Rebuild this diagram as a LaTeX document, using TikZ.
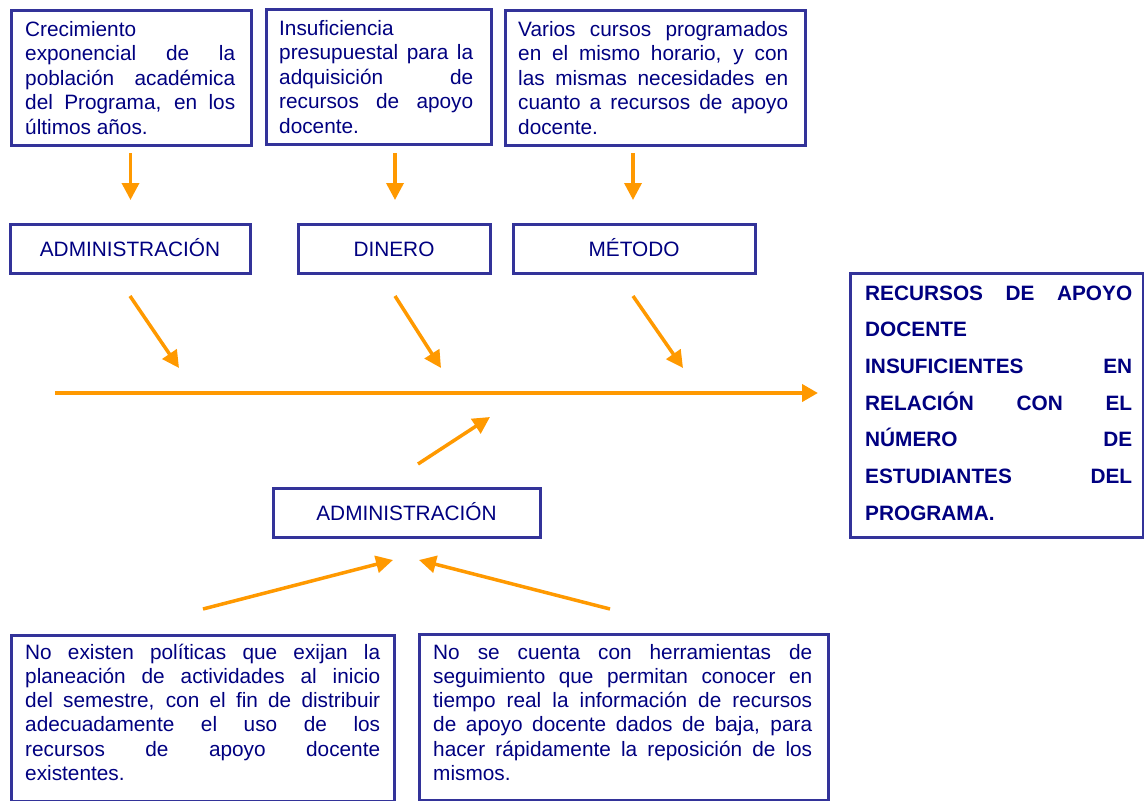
\documentclass[tikz,border=0pt]{standalone}
\usepackage{fontspec}
\setmainfont{Liberation Sans}
\usetikzlibrary{arrows.meta}
\definecolor{boxline}{HTML}{333399}
\definecolor{txt}{HTML}{000080}
\definecolor{arr}{HTML}{FF9900}
\hyphenpenalty=10000
\exhyphenpenalty=10000
\hbadness=10000
\begin{document}
\begin{tikzpicture}[x=1pt,y=-1pt,
  frame/.style={draw=boxline, line width=3pt, inner sep=0pt, anchor=north west},
  body/.style={text=txt, font=\fontsize{20.8}{24.6}\selectfont, align=justify, inner sep=0pt, anchor=base west},
  bigbody/.style={text=txt, font=\bfseries\fontsize{20.8}{36.7}\selectfont, align=justify, inner sep=0pt, anchor=base west},
  labelbox/.style={draw=boxline, line width=3pt, text=txt, font=\fontsize{20.8}{24.6}\selectfont, text height=15pt, text depth=0pt, inner sep=0pt},
  arrowthin/.style={draw=arr, line width=3.5pt, -{Triangle[length=17pt,width=17pt]}},
  arrowmain/.style={draw=arr, line width=4.5pt, -{Triangle[length=16pt,width=17pt]}},
]
\useasboundingbox (0,0) rectangle (1144,801);

% top cause boxes
\node[frame, minimum width=240pt, minimum height=135pt] (b1) at (10,9) {};
\node[frame, minimum width=225pt, minimum height=135pt] (b2) at (265,8) {};
\node[frame, minimum width=300pt, minimum height=135pt] (b3) at (504,9) {};
\node[body, text width=210pt] (t1) at (25,36) {Crecimiento\linebreak exponencial de la\linebreak población académica\linebreak del Programa, en los\linebreak últimos años.};
\node[body, text width=194pt] (t2) at (279,35) {Insuficiencia\linebreak presupuestal para la\linebreak adquisición de\linebreak recursos de apoyo\linebreak docente.};
\node[body, text width=270pt] (t3) at (518,36) {Varios cursos programados\linebreak en el mismo horario, y con\linebreak las mismas necesidades en\linebreak cuanto a recursos de apoyo\linebreak docente.};

% category boxes
\node[labelbox, minimum width=240pt, minimum height=49pt] (adm) at (130,248.5) {ADMINISTRACIÓN};
\node[labelbox, minimum width=192pt, minimum height=49pt] (din) at (394,248.5) {DINERO};
\node[labelbox, minimum width=242pt, minimum height=49pt] (met) at (634,248.5) {MÉTODO};
\node[labelbox, minimum width=267pt, minimum height=49pt] (adm2) at (406.5,512.5) {ADMINISTRACIÓN};

% effect box
\node[frame, minimum width=293pt, minimum height=264pt] (eff) at (849,272) {};
\node[bigbody, text width=267pt] (teff) at (865,300) {RECURSOS DE APOYO\linebreak DOCENTE\linebreak INSUFICIENTES EN\linebreak RELACIÓN CON EL\linebreak NÚMERO DE\linebreak ESTUDIANTES DEL\linebreak PROGRAMA.};

% bottom cause boxes
\node[frame, minimum width=383pt, minimum height=166pt] (b4) at (10,634) {};
\node[frame, minimum width=409pt, minimum height=166pt] (b5) at (418,633) {};
\node[body, text width=355pt, font=\fontsize{20.8}{24.3}\selectfont] (t4) at (25,659) {No existen políticas que exijan la\linebreak planeación de actividades al inicio\linebreak del semestre, con el fin de distribuir\linebreak adecuadamente el uso de los\linebreak recursos de apoyo docente\linebreak existentes.};
\node[body, text width=379pt, font=\fontsize{20.8}{24.3}\selectfont] (t5) at (433,659) {No se cuenta con herramientas de\linebreak seguimiento que permitan conocer en\linebreak tiempo real la información de recursos\linebreak de apoyo docente dados de baja, para\linebreak hacer rápidamente la reposición de los\linebreak mismos.};

% arrow end points
\coordinate (v1s) at (130.5,153); \coordinate (v1e) at (130.5,200);
\coordinate (v2s) at (395,153);   \coordinate (v2e) at (395,200);
\coordinate (v3s) at (633,153);   \coordinate (v3e) at (633,200);
\coordinate (d1s) at (130,296);   \coordinate (d1e) at (179,368);
\coordinate (d2s) at (395,296);   \coordinate (d2e) at (441,368);
\coordinate (d3s) at (633,296);   \coordinate (d3e) at (683,368);
\coordinate (ms) at (55,393);     \coordinate (me) at (818,393);
\coordinate (us) at (418,464);    \coordinate (ue) at (490,417);
\coordinate (ls) at (203,609);    \coordinate (le) at (393,560);
\coordinate (rs) at (610,609);    \coordinate (re) at (419,560);

\draw[arrowthin] (v1s) -- (v1e);
\draw[arrowthin] (v2s) -- (v2e);
\draw[arrowthin] (v3s) -- (v3e);
\draw[arrowthin] (d1s) -- (d1e);
\draw[arrowthin] (d2s) -- (d2e);
\draw[arrowthin] (d3s) -- (d3e);
\draw[arrowmain] (ms) -- (me);
\draw[arrowthin] (us) -- (ue);
\draw[arrowthin] (ls) -- (le);
\draw[arrowthin] (rs) -- (re);
\end{tikzpicture}
\end{document}
